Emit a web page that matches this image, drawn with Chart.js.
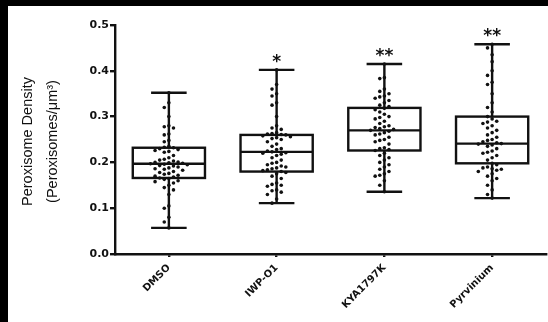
<!DOCTYPE html>
<html>
<head>
<meta charset="utf-8">
<script src="https://cdn.jsdelivr.net/npm/chart.js@4.4.0/dist/chart.umd.min.js"></script>
<style>
  html, body { margin: 0; padding: 0; background: #000; }
  #wrap { position: absolute; left: 8px; top: 6px; width: 540px; height: 316px; background: #fff; }
</style>
</head>
<body>
<div id="wrap"><canvas id="boxChart"></canvas></div>
<script>
const categories = ["DMSO", "IWP-O1", "KYA1797K", "Pyrvinium"];

// box + whisker values (min to max whiskers)
const whiskerMin = [0.057, 0.111, 0.136, 0.122];
const q1 = [0.166, 0.180, 0.226, 0.198];
const median = [0.197, 0.223, 0.270, 0.241];
const q3 = [0.232, 0.260, 0.319, 0.300];
const whiskerMax = [0.352, 0.402, 0.415, 0.458];
const stars = ["", "*", "**", "**"];
const yTitle = ["Peroxisome Density", "(Peroxisomes/\u03bcm\u00b3)"];

// individual cells
const dmsoDots = [0.352, 0.33, 0.32, 0.30, 0.28, 0.278, 0.275, 0.262, 0.26, 0.248, 0.245, 0.235,
  0.233, 0.232, 0.230, 0.228, 0.226, 0.224, 0.222, 0.215, 0.21, 0.207, 0.205, 0.203, 0.201, 0.200,
  0.199, 0.198, 0.197, 0.196, 0.195, 0.193, 0.192, 0.190, 0.188, 0.186, 0.185, 0.183, 0.180, 0.178,
  0.176, 0.174, 0.172, 0.170, 0.168, 0.166, 0.165, 0.163, 0.160, 0.158, 0.155, 0.150, 0.145, 0.140,
  0.13, 0.105, 0.100, 0.080, 0.070, 0.057];
const iwpDots = [0.402, 0.37, 0.36, 0.35, 0.345, 0.33, 0.325, 0.30, 0.28, 0.275, 0.272, 0.265,
  0.263, 0.262, 0.261, 0.260, 0.258, 0.256, 0.254, 0.252, 0.25, 0.245, 0.24, 0.235, 0.23, 0.228,
  0.225, 0.223, 0.221, 0.22, 0.218, 0.215, 0.21, 0.205, 0.20, 0.198, 0.195, 0.192, 0.19, 0.188,
  0.186, 0.184, 0.182, 0.18, 0.178, 0.175, 0.17, 0.165, 0.155, 0.152, 0.15, 0.148, 0.14, 0.138,
  0.135, 0.13, 0.12, 0.111];
const kyaDots = [0.415, 0.385, 0.383, 0.36, 0.355, 0.35, 0.345, 0.343, 0.34, 0.335, 0.33, 0.325,
  0.322, 0.318, 0.315, 0.31, 0.305, 0.30, 0.298, 0.295, 0.29, 0.285, 0.28, 0.278, 0.276, 0.274,
  0.272, 0.27, 0.268, 0.265, 0.262, 0.26, 0.255, 0.25, 0.248, 0.245, 0.24, 0.232, 0.23, 0.228,
  0.226, 0.22, 0.215, 0.21, 0.205, 0.20, 0.195, 0.19, 0.185, 0.18, 0.175, 0.172, 0.17, 0.16,
  0.15, 0.136];
const pyrDots = [0.458, 0.45, 0.435, 0.42, 0.40, 0.39, 0.375, 0.37, 0.35, 0.33, 0.32, 0.31, 0.30,
  0.295, 0.29, 0.288, 0.285, 0.28, 0.275, 0.27, 0.265, 0.26, 0.255, 0.25, 0.248, 0.245, 0.243,
  0.241, 0.24, 0.238, 0.235, 0.23, 0.225, 0.222, 0.22, 0.215, 0.21, 0.205, 0.198, 0.195, 0.19,
  0.188, 0.186, 0.185, 0.183, 0.18, 0.175, 0.17, 0.165, 0.16, 0.15, 0.14, 0.13, 0.122];
const groups = [dmsoDots, iwpDots, kyaDots, pyrDots];

// simple beeswarm so dots spread sideways instead of stacking
const pxPerY = 458, pxPerCat = 107.7, gap = 4.6;
function swarm(values, idx) {
  const placed = [];
  const out = [];
  values.slice().sort((a, b) => b - a).forEach(v => {
    const py = v * pxPerY;
    let k = 0, px = 0;
    while (true) {
      px = (k % 2 === 0 ? 1 : -1) * Math.ceil(k / 2) * gap;
      if (placed.every(p => Math.hypot(p[0] - px, p[1] - py) >= gap)) break;
      k++;
    }
    placed.push([px, py]);
    out.push({ x: idx + px / pxPerCat, y: v });
  });
  return out;
}
const dots = groups.flatMap((g, i) => swarm(g, i));

const boxPlugin = {
  id: "boxes",
  beforeDatasetsDraw(chart) {
    const { ctx, scales: { x, y } } = chart;
    ctx.save();
    ctx.strokeStyle = "#111";
    ctx.lineWidth = 2.4;
    categories.forEach((c, i) => {
      const xl = x.getPixelForValue(i - 0.335), xr = x.getPixelForValue(i + 0.335);
      const xc = x.getPixelForValue(i);
      const cl = x.getPixelForValue(i - 0.165), cr = x.getPixelForValue(i + 0.165);
      const yMin = y.getPixelForValue(whiskerMin[i]), yMax = y.getPixelForValue(whiskerMax[i]);
      const y1 = y.getPixelForValue(q1[i]), y3 = y.getPixelForValue(q3[i]);
      const ym = y.getPixelForValue(median[i]);
      ctx.beginPath();
      ctx.moveTo(xc, yMax); ctx.lineTo(xc, y3);
      ctx.moveTo(xc, y1); ctx.lineTo(xc, yMin);
      ctx.moveTo(cl, yMax); ctx.lineTo(cr, yMax);
      ctx.moveTo(cl, yMin); ctx.lineTo(cr, yMin);
      ctx.moveTo(xl, ym); ctx.lineTo(xr, ym);
      ctx.stroke();
      ctx.strokeRect(xl, y3, xr - xl, y1 - y3);
      if (stars[i]) {
        ctx.fillStyle = "#111";
        ctx.font = "bold 17px 'DejaVu Sans'";
        ctx.textAlign = "center";
        ctx.textBaseline = "alphabetic";
        ctx.fillText(stars[i], xc, yMax - 3);
      }
    });
    ctx.restore();
  }
};

const titlePlugin = {
  id: "ytitle",
  afterDraw(chart) {
    const { ctx, chartArea } = chart;
    const yc = (chartArea.top + chartArea.bottom) / 2 + 2;
    ctx.save();
    ctx.fillStyle = "#111";
    ctx.font = "14.5px 'Liberation Sans', Arial";
    ctx.textAlign = "center";
    ctx.textBaseline = "middle";
    [20, 45].forEach((xp, k) => {
      ctx.save();
      ctx.translate(xp, yc);
      ctx.rotate(-Math.PI / 2);
      ctx.fillText(yTitle[k], 0, 0);
      ctx.restore();
    });
    ctx.restore();
  }
};

const ctx = document.querySelector("#boxChart").getContext("2d");
const myChart = new Chart(ctx, {
  type: "scatter",
  data: {
    datasets: [{
      data: dots,
      pointRadius: 1.8,
      pointHoverRadius: 1.8,
      backgroundColor: "#111",
      borderWidth: 0
    }]
  },
  options: {
    responsive: true,
    maintainAspectRatio: false,
    animation: false,
    layout: { padding: { top: 19, right: 2 } },
    plugins: { legend: { display: false }, tooltip: { enabled: false } },
    scales: {
      x: {
        type: "linear",
        min: -0.5,
        max: 3.5,
        afterBuildTicks: s => { s.ticks = categories.map((c, i) => ({ value: i })); },
        afterFit: s => { s.height = 68; },
        grid: { drawOnChartArea: false, color: "#111", lineWidth: 2.4, tickLength: 3 },
        border: { color: "#111", width: 2.4 },
        ticks: {
          minRotation: 45,
          maxRotation: 45,
          padding: 5,
          color: "#111",
          font: { family: "'DejaVu Sans'", size: 10, weight: "bold" },
          callback: v => categories[v]
        }
      },
      y: {
        min: 0,
        max: 0.5,
        afterFit: s => { s.width = 107; },
        grid: { drawOnChartArea: false, color: "#111", lineWidth: 2.4, tickLength: 5 },
        border: { color: "#111", width: 2.4 },
        ticks: {
          stepSize: 0.1,
          padding: 1,
          color: "#111",
          font: { family: "'DejaVu Sans'", size: 11, weight: "bold" },
          callback: v => v.toFixed(1)
        }
      }
    }
  },
  plugins: [boxPlugin, titlePlugin]
});
</script>
</body>
</html>
